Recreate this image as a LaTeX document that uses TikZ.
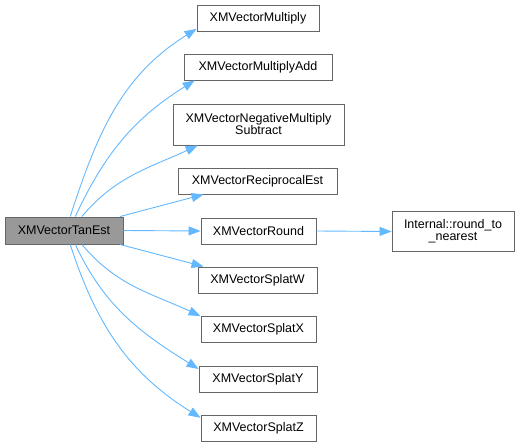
\documentclass[tikz,border=0pt]{standalone}
\usepackage{fontspec}
\setmainfont{Liberation Sans}
\definecolor{EdgeBlue}{RGB}{99,184,255}
\definecolor{NodeGrey}{RGB}{102,102,102}
\definecolor{MainGrey}{RGB}{153,153,153}
\usetikzlibrary{arrows.meta}

\begin{document}
\begin{tikzpicture}[x=1pt, y=1pt, font=\fontsize{12.5}{14}\selectfont,
	func/.style={draw=NodeGrey, fill=white, line width=0.9pt, inner sep=0pt,
		align=center, minimum height=26pt},
	call/.style={EdgeBlue, line width=0.9pt, -{Triangle[length=12pt, width=9pt]}}]
	\useasboundingbox (0,0) rectangle (520,-447);

	% funcion principal
	\node[func, fill=MainGrey, minimum width=118pt, minimum height=27pt] (tanest)
		at (64,-230.5) {XMVectorTanEst};

	% funciones llamadas
	\node[func, minimum width=122pt] (mult) at (258,-18) {XMVectorMultiply};
	\node[func, minimum width=148pt] (madd) at (258,-67) {XMVectorMultiplyAdd};
	\node[func, minimum width=171pt, minimum height=41pt] (nms) at (258.5,-124.5)
		{XMVectorNegativeMultiply\\[-2pt]Subtract};
	\node[func, minimum width=159pt] (recip) at (257.5,-181) {XMVectorReciprocalEst};
	\node[func, minimum width=115pt] (round) at (258.5,-231) {XMVectorRound};
	\node[func, minimum width=119pt] (splatw) at (257.5,-280) {XMVectorSplatW};
	\node[func, minimum width=115pt] (splatx) at (258.5,-329.5) {XMVectorSplatX};
	\node[func, minimum width=118pt] (splaty) at (258,-379.5) {XMVectorSplatY};
	\node[func, minimum width=115pt] (splatz) at (258.5,-428) {XMVectorSplatZ};
	\node[func, minimum width=122pt, minimum height=40pt] (nearest) at (453,-231.5)
		{Internal::round\_to\\[-2pt]\_nearest};

	% llamadas curvas
	\foreach \a/\o/\b/\i in {66/72/mult.190/212, 51/65/madd.192/212,
		38/50/nms.199/205, -38/-50/splatx.167/155, -51/-65/splaty.170/148,
		-66/-72/splatz.170/148}{
		\draw[call] (tanest.\a) to[out=\o, in=\i] (\b);
	}

	% llamadas rectas
	\draw[call] (tanest.14) -- (recip.194);
	\draw[call] (tanest.east) -- (round.west);
	\draw[call] (tanest.-14) -- (splatw.166);
	\draw[call] (round.east) -- (nearest.west);
\end{tikzpicture}
\end{document}
